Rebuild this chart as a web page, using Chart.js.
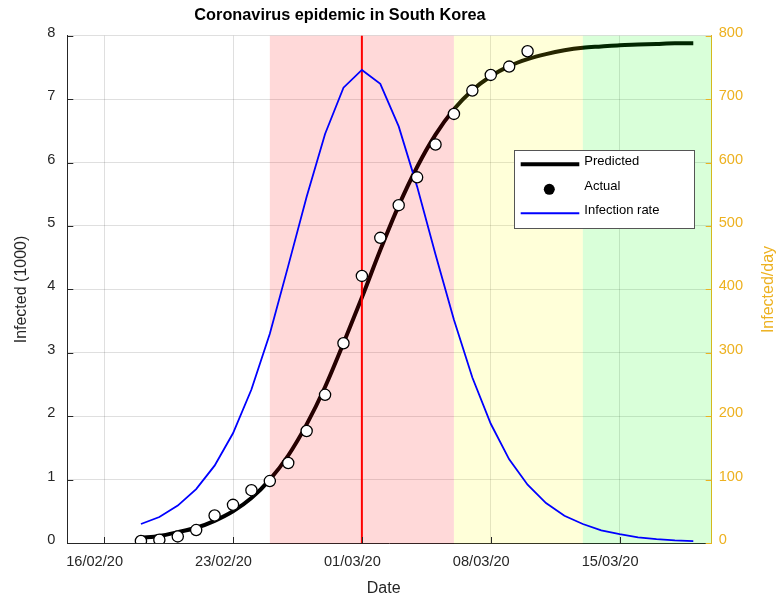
<!DOCTYPE html>
<html>
<head>
<meta charset="utf-8">
<script src="https://cdn.jsdelivr.net/npm/chart.js@4.4.1/dist/chart.umd.min.js"></script>
<style>
html,body{margin:0;padding:0;background:#fff;}
#wrap{width:776px;height:599px;}
</style>
</head>
<body>
<div id="wrap"><canvas id="c" width="776" height="599"></canvas></div>
<script>
// x values are days since 14/02/20
const tickDays = [2, 9, 16, 23, 30];
const tickLabels = ['16/02/20', '23/02/20', '01/03/20', '08/03/20', '15/03/20'];

// Actual confirmed cases (thousands)
const actualDays = [4, 5, 6, 7, 8, 9, 10, 11, 12, 13, 14, 15, 16, 17, 18, 19, 20, 21, 22, 23, 24, 25];
const actualCases = [0.031, 0.051, 0.104, 0.204, 0.433, 0.602, 0.833, 0.977, 1.261, 1.766, 2.337, 3.150,
                     4.212, 4.812, 5.328, 5.766, 6.284, 6.767, 7.134, 7.382, 7.513, 7.755];

// Predicted curve (thousands) and infection rate (per day)
const modelDays = [4, 5, 6, 7, 8, 9, 10, 11, 12, 13, 14, 15, 16, 17, 18, 19, 20, 21, 22, 23, 24, 25,
                   26, 27, 28, 29, 30, 31, 32, 33, 34];
const predicted = [0.08, 0.11, 0.17, 0.24, 0.35, 0.50, 0.71, 1.00, 1.38, 1.87, 2.46, 3.15, 3.87, 4.62,
                   5.32, 5.93, 6.44, 6.84, 7.14, 7.36, 7.52, 7.63, 7.71, 7.77, 7.81, 7.83, 7.85, 7.86,
                   7.87, 7.88, 7.88];
const infectionRate = [30, 41, 59, 85, 122, 173, 242, 330, 437, 546, 645, 718, 746, 724, 657, 562, 455,
                       352, 261, 188, 132, 92, 63, 43, 30, 20, 14, 9, 6, 4, 3];

// Phase shading (day ranges) and peak marker
const phaseRanges = [[11, 21], [21, 28], [28, 35]];
const phaseColors = ['rgba(255,0,0,0.15)', 'rgba(255,255,0,0.15)', 'rgba(0,255,0,0.15)'];
const peakDay = 16;

const ORANGE = '#EDB120';
const DARK = '#262626';
const FONT = "'Liberation Sans', Arial, Helvetica, sans-serif";
Chart.defaults.font.family = FONT;

const deco = {
  id: 'deco',
  afterDatasetDraw(chart, args) {
    if (args.index !== 0) return;
    const {ctx, chartArea: a, scales: {x}} = chart;
    ctx.save();
    phaseRanges.forEach((r, i) => {
      const x0 = x.getPixelForValue(r[0]);
      const x1 = x.getPixelForValue(r[1]);
      ctx.fillStyle = phaseColors[i];
      ctx.fillRect(x0, a.top, x1 - x0, a.bottom - a.top + 0.5);
    });
    const px = x.getPixelForValue(peakDay);
    ctx.strokeStyle = '#ff0000';
    ctx.lineWidth = 2;
    ctx.beginPath();
    ctx.moveTo(px, a.top);
    ctx.lineTo(px, a.bottom);
    ctx.stroke();
    ctx.restore();
  },
  afterDraw(chart) {
    const {ctx, chartArea: a, scales: {x, y, y1}} = chart;
    ctx.save();
    // inward tick marks
    ctx.lineWidth = 1;
    ctx.strokeStyle = DARK;
    ctx.beginPath();
    for (let v = 0; v <= 8; v++) {
      const py = Math.round(y.getPixelForValue(v)) + 0.5;
      ctx.moveTo(a.left, py); ctx.lineTo(a.left + 6, py);
    }
    tickDays.forEach(d => {
      const px = Math.round(x.getPixelForValue(d)) + 0.5;
      ctx.moveTo(px, a.bottom); ctx.lineTo(px, a.bottom - 6);
    });
    ctx.stroke();
    ctx.strokeStyle = ORANGE;
    ctx.beginPath();
    for (let v = 0; v <= 800; v += 100) {
      const py = Math.round(y1.getPixelForValue(v)) + 0.5;
      ctx.moveTo(a.right, py); ctx.lineTo(a.right - 6, py);
    }
    ctx.stroke();

    // titles
    ctx.textAlign = 'center';
    ctx.textBaseline = 'middle';
    ctx.fillStyle = '#000';
    ctx.font = 'bold 16.3px ' + FONT;
    ctx.fillText('Coronavirus epidemic in South Korea', 340, 16);
    ctx.fillStyle = DARK;
    ctx.font = '16px ' + FONT;
    ctx.fillText('Date', 383.7, 588.5);
    ctx.save();
    ctx.translate(22, 289.5);
    ctx.rotate(-Math.PI / 2);
    ctx.fillText('Infected (1000)', 0, 0);
    ctx.restore();
    ctx.save();
    ctx.translate(769, 289.5);
    ctx.rotate(-Math.PI / 2);
    ctx.fillStyle = ORANGE;
    ctx.fillText('Infected/day', 0, 0);
    ctx.restore();

    // legend
    const bx = 514, by = 150.5, bw = 180, bh = 78;
    ctx.fillStyle = '#fff';
    ctx.fillRect(bx, by, bw, bh);
    ctx.strokeStyle = '#555';
    ctx.lineWidth = 1;
    ctx.strokeRect(bx + 0.5, by, bw, bh);
    ctx.strokeStyle = '#000';
    ctx.lineWidth = 4;
    ctx.beginPath(); ctx.moveTo(520.7, 164.3); ctx.lineTo(579.3, 164.3); ctx.stroke();
    ctx.fillStyle = '#000';
    ctx.beginPath(); ctx.arc(549.3, 189.3, 5.5, 0, Math.PI * 2); ctx.fill();
    ctx.strokeStyle = '#0000ff';
    ctx.lineWidth = 2;
    ctx.beginPath(); ctx.moveTo(520.7, 213.3); ctx.lineTo(579.3, 213.3); ctx.stroke();
    ctx.fillStyle = '#000';
    ctx.textAlign = 'left';
    ctx.font = '13px ' + FONT;
    ctx.fillText('Predicted', 584.3, 161.5);
    ctx.fillText('Actual', 584.3, 186.7);
    ctx.fillText('Infection rate', 584.3, 210.9);
    ctx.restore();
  }
};

const gridColor = 'rgba(38,38,38,0.15)';

new Chart(document.getElementById('c'), {
  type: 'line',
  data: {
    datasets: [
      {
        label: 'Predicted',
        data: modelDays.map((d, i) => ({x: d, y: predicted[i]})),
        borderColor: '#000',
        borderWidth: 4,
        pointRadius: 0,
        cubicInterpolationMode: 'monotone',
        yAxisID: 'y',
        order: 3
      },
      {
        label: 'Infection rate',
        data: modelDays.map((d, i) => ({x: d, y: infectionRate[i]})),
        borderColor: '#0000ff',
        borderWidth: 1.8,
        pointRadius: 0,
        tension: 0,
        yAxisID: 'y1',
        order: 2
      },
      {
        label: 'Actual',
        type: 'scatter',
        data: actualDays.map((d, i) => ({x: d, y: actualCases[i]})),
        showLine: false,
        pointRadius: 5.6,
        pointBackgroundColor: '#fff',
        pointBorderColor: '#000',
        pointBorderWidth: 1.3,
        yAxisID: 'y',
        order: 1
      }
    ]
  },
  options: {
    responsive: false,
    animation: false,
    events: [],
    layout: {padding: {top: 35.7, left: 0, right: 0, bottom: 0}},
    plugins: {legend: {display: false}, tooltip: {enabled: false}, title: {display: false}},
    scales: {
      x: {
        type: 'linear',
        min: 0,
        max: 35,
        afterBuildTicks: s => { s.ticks = tickDays.map(v => ({value: v})); },
        afterFit: s => { s.height = 56; },
        grid: {color: gridColor, drawTicks: false},
        border: {color: DARK},
        ticks: {
          callback: v => { const i = tickDays.indexOf(v); return i >= 0 ? tickLabels[i] : ''; },
          labelOffset: -9.5,
          padding: 10,
          maxRotation: 0,
          autoSkip: false,
          color: DARK,
          font: {size: 14.6}
        }
      },
      y: {
        position: 'left',
        min: 0,
        max: 8,
        afterFit: s => { s.width = 67.3; },
        grid: {color: gridColor, drawTicks: false},
        border: {color: DARK},
        ticks: {stepSize: 1, padding: 12, labelOffset: -3, color: DARK, font: {size: 14.6}}
      },
      y1: {
        position: 'right',
        min: 0,
        max: 800,
        afterFit: s => { s.width = 64.3; },
        grid: {drawOnChartArea: false, drawTicks: false},
        border: {color: ORANGE},
        ticks: {stepSize: 100, padding: 7, labelOffset: -3, color: ORANGE, font: {size: 14.6}}
      }
    }
  },
  plugins: [deco]
});
</script>
</body>
</html>
